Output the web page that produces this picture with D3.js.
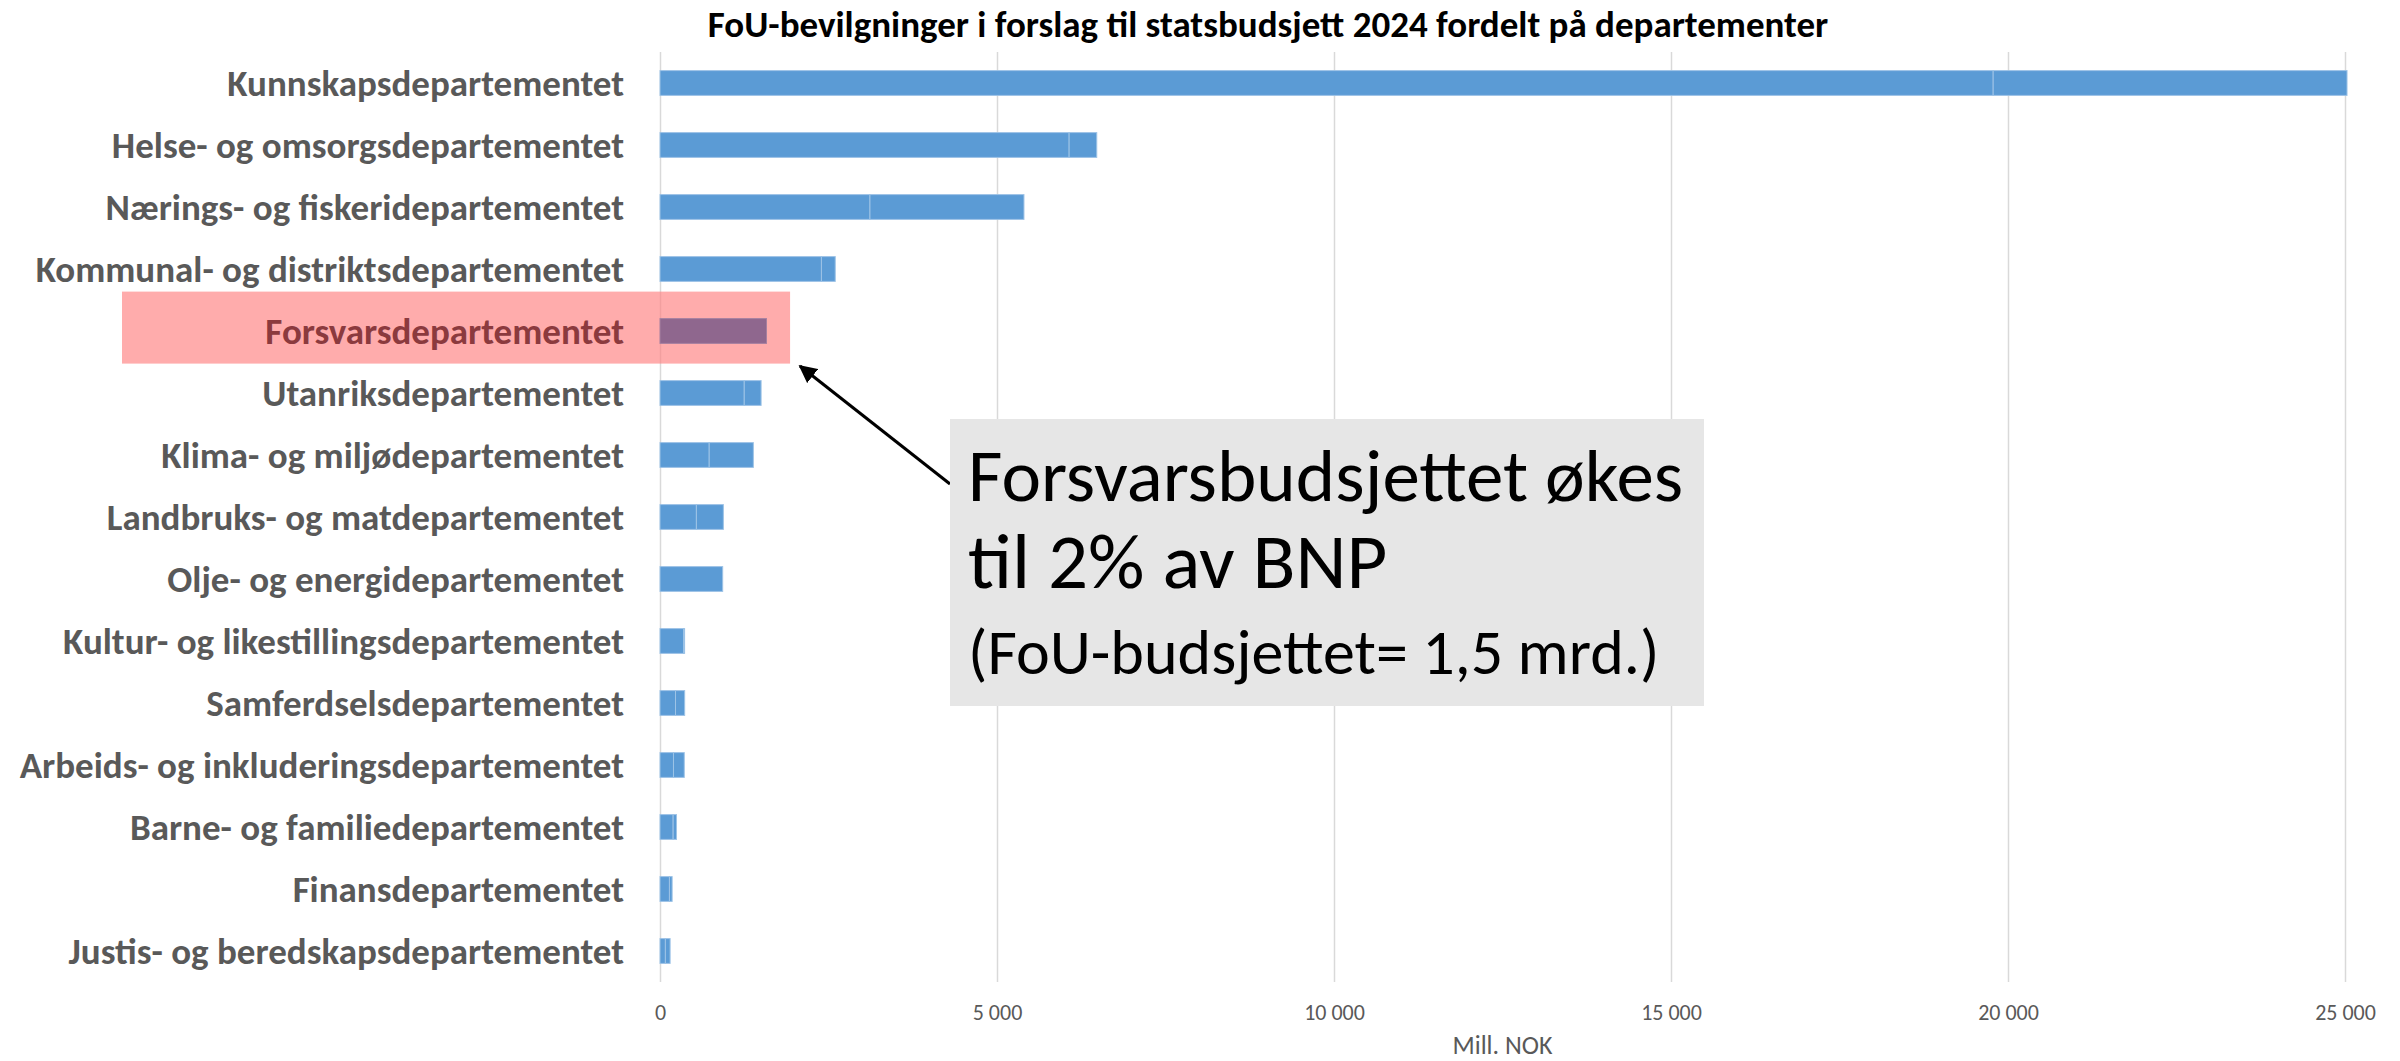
<!DOCTYPE html>
<html>
<head>
<meta charset="utf-8">
<script src="https://cdn.jsdelivr.net/npm/d3@7"></script>
<style>
  body { margin: 0; background: #fff; }
  svg text { font-family: Carlito, "Open Sans", sans-serif; }
</style>
</head>
<body>
<div id="chart"></div>
<script>
// DATA
const categories = [
    "Kunnskapsdepartementet",
    "Helse- og omsorgsdepartementet",
    "Nærings- og fiskeridepartementet",
    "Kommunal- og distriktsdepartementet",
    "Forsvarsdepartementet",
    "Utanriksdepartementet",
    "Klima- og miljødepartementet",
    "Landbruks- og matdepartementet",
    "Olje- og energidepartementet",
    "Kultur- og likestillingsdepartementet",
    "Samferdselsdepartementet",
    "Arbeids- og inkluderingsdepartementet",
    "Barne- og familiedepartementet",
    "Finansdepartementet",
    "Justis- og beredskapsdepartementet",
];
// two stacked parts per bar (same colour in the chart)
const partA = [19780, 6070, 3115, 2395, 1580, 1250, 730, 540, 930, 350, 230, 200, 195, 140, 80];
const partB = [5250, 410, 2285, 205, 0, 250, 655, 400, 0, 15, 136, 160, 50, 40, 70];
const xTicks = [0, 5000, 10000, 15000, 20000, 25000];
const highlighted = "Forsvarsdepartementet";

const title = "FoU-bevilgninger i forslag til statsbudsjett 2024 fordelt på departementer";
const xTitle = "Mill. NOK";
const noteLines = ["Forsvarsbudsjettet økes", "til 2% av BNP", "(FoU-budsjettet= 1,5 mrd.)"];

//DIMENSIONS
const dimension = {
    width: 2400,
    height: 1061,
    margin: { top: 52, right: 55, bottom: 79, left: 660 },
}
dimension.boundedWidth = dimension.width - dimension.margin.left - dimension.margin.right;
dimension.boundedHeight = dimension.height - dimension.margin.top - dimension.margin.bottom;

const rows = categories.map((c, i) => ({ name: c, a: partA[i], b: partB[i] }));
const stacked = d3.stack().keys(["a", "b"])(rows);

//SCALES
const xScale = d3.scaleLinear()
    .domain([0, 25000])
    .range([0, dimension.boundedWidth])

const yScale = d3.scaleBand()
    .domain(categories)
    .range([0, dimension.boundedHeight])
    .paddingInner(0.6)
    .paddingOuter(0.3)

const nok = d3.formatLocale({ decimal: ",", thousands: "\u00a0", grouping: [3], currency: ["", " kr"] }).format(",d");

const svg = d3.select("#chart")
    .append("svg")
    .attr("width", dimension.width)
    .attr("height", dimension.height)

svg.append("text")
    .attr("x", 1268)
    .attr("y", 37)
    .attr("text-anchor", "middle")
    .attr("font-size", 37)
    .attr("font-weight", "bold")
    .attr("fill", "#000")
    .text(title)

const bounds = svg.append("g")
    .attr("transform", `translate(${dimension.margin.left},${dimension.margin.top})`)

//GRIDLINES + AXIS
const xAxis = d3.axisBottom(xScale)
    .tickValues(xTicks)
    .tickFormat(nok)
    .tickSize(-dimension.boundedHeight)
    .tickPadding(22)

const axisG = bounds.append("g")
    .attr("transform", `translate(0,${dimension.boundedHeight})`)
    .call(xAxis)
axisG.select(".domain").remove()
axisG.selectAll(".tick line").attr("stroke", "#d9d9d9").attr("stroke-width", 1.5)
axisG.selectAll(".tick text")
    .attr("fill", "#595959")
    .attr("font-size", 22)
    .style("font-family", "Carlito, 'Open Sans', sans-serif")

bounds.append("text")
    .attr("x", dimension.boundedWidth / 2)
    .attr("y", dimension.boundedHeight + 72)
    .attr("text-anchor", "middle")
    .attr("fill", "#595959")
    .attr("font-size", 26)
    .text(xTitle)

//HIGHLIGHT BOX
const hy = yScale(highlighted)
bounds.append("rect")
    .attr("x", 122 - dimension.margin.left)
    .attr("y", hy - 27)
    .attr("width", xScale(1930) - (122 - dimension.margin.left))
    .attr("height", 72)
    .attr("fill", "#ff7f7f")
    .attr("opacity", 0.65)

//BARS
bounds.selectAll("g.layer")
    .data(stacked)
    .enter()
    .append("g")
    .attr("class", "layer")
    .selectAll("rect")
    .data(d => d.filter(s => s[1] > s[0]))
    .enter()
    .append("rect")
    .attr("x", d => xScale(d[0]))
    .attr("y", d => yScale(d.data.name))
    .attr("width", d => xScale(d[1]) - xScale(d[0]))
    .attr("height", yScale.bandwidth())
    .attr("fill", d => d.data.name === highlighted ? "#8f678e" : "#5b9bd5")
    .attr("stroke", d => d.data.name === highlighted ? "#a680a0" : "#9dc3e6")
    .attr("stroke-width", 1)

//CATEGORY LABELS
bounds.selectAll("text.cat")
    .data(categories)
    .enter()
    .append("text")
    .attr("class", "cat")
    .attr("x", 624 - dimension.margin.left)
    .attr("y", d => yScale(d) + yScale.bandwidth() / 2)
    .attr("dy", "0.35em")
    .attr("text-anchor", "end")
    .attr("font-size", 37)
    .attr("font-weight", "bold")
    .attr("fill", d => d === highlighted ? "#8b3a3e" : "#595959")
    .text(d => d)

//ANNOTATION
svg.append("defs").append("marker")
    .attr("id", "arrow")
    .attr("viewBox", "0 0 10 10")
    .attr("refX", 9)
    .attr("refY", 5)
    .attr("markerWidth", 6)
    .attr("markerHeight", 6)
    .attr("orient", "auto")
    .append("path")
    .attr("d", "M0,0 L10,5 L0,10 z")
    .attr("fill", "#000")

svg.append("line")
    .attr("x1", 950)
    .attr("y1", 484)
    .attr("x2", 800)
    .attr("y2", 366)
    .attr("stroke", "#000")
    .attr("stroke-width", 3)
    .attr("marker-end", "url(#arrow)")

svg.append("rect")
    .attr("x", 950)
    .attr("y", 419)
    .attr("width", 754)
    .attr("height", 287)
    .attr("fill", "#e6e6e6")

const noteSizes = [75, 79, 64]
const noteY = [501, 588, 674]
noteLines.forEach((t, i) => {
    svg.append("text")
        .attr("x", 968)
        .attr("y", noteY[i])
        .attr("font-size", noteSizes[i])
        .attr("fill", "#000")
        .text(t)
})
</script>
</body>
</html>
